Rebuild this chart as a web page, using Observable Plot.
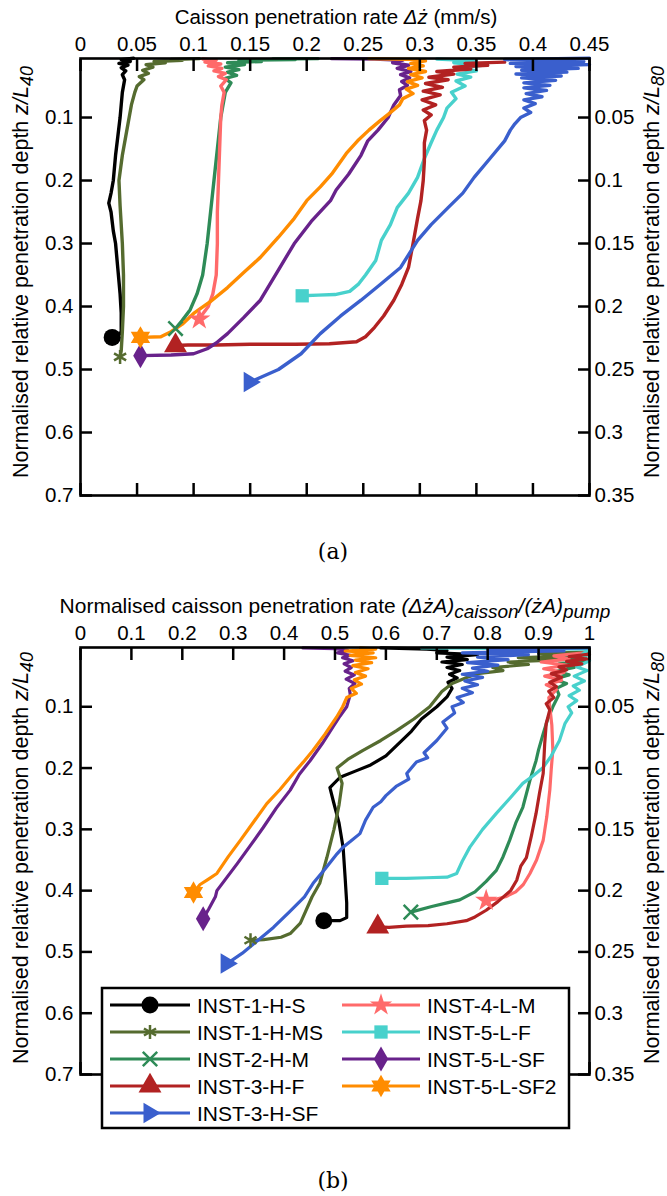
<!DOCTYPE html>
<html><head><meta charset="utf-8">
<script src="https://cdn.jsdelivr.net/npm/d3@7"></script>
<script src="https://cdn.jsdelivr.net/npm/@observablehq/plot@0.6"></script>
<style>
body{margin:0;background:#fff;}
#chart{width:667px;}
#chart svg{display:block;}
</style></head><body><div id="chart"></div>
<script>
const FONT = '"Liberation Sans", Arial, Helvetica, sans-serif';
const SERIF = '"DejaVu Serif", "Liberation Serif", serif';

const names = ["INST-1-H-S","INST-1-H-MS","INST-2-H-M","INST-3-H-F","INST-3-H-SF","INST-4-L-M","INST-5-L-F","INST-5-L-SF","INST-5-L-SF2"];
const colors = ["#000000","#556b2f","#2e8b57","#b22222","#3a5fcd","#ff6a6a","#48d1cc","#68228b","#ff8c00"];

const xTicksA = [0,0.05,0.1,0.15,0.2,0.25,0.3,0.35,0.4,0.45];
const xTicksB = [0,0.1,0.2,0.3,0.4,0.5,0.6,0.7,0.8,0.9,1];
const yTicksL = [0.1,0.2,0.3,0.4,0.5,0.6,0.7];
const yTicksR = [0.05,0.1,0.15,0.2,0.25,0.3,0.35];

// Panel (a): [penetration rate mm/s, z/L40]
const a_1HS = [[0.047,0.006],[0.036,0.008],[0.044,0.011],[0.034,0.014],[0.042,0.017],[0.036,0.021],[0.04,0.026],[0.037,0.032],[0.039,0.04],[0.037,0.06],[0.036,0.08],[0.035,0.1],[0.033,0.13],[0.031,0.16],[0.029,0.2],[0.027,0.22],[0.025,0.236],[0.027,0.25],[0.029,0.28],[0.031,0.3],[0.033,0.34],[0.035,0.38],[0.036,0.41],[0.036,0.44],[0.032,0.449],[0.028,0.449]];
const a_1HMS = [[0.105,0.0065],[0.08,0.008],[0.09,0.009],[0.065,0.011],[0.075,0.013],[0.058,0.016],[0.064,0.02],[0.055,0.025],[0.06,0.03],[0.052,0.035],[0.056,0.04],[0.05,0.05],[0.048,0.06],[0.045,0.08],[0.043,0.1],[0.04,0.13],[0.037,0.16],[0.034,0.2],[0.035,0.24],[0.037,0.3],[0.038,0.35],[0.038,0.4],[0.037,0.44],[0.036,0.47],[0.035,0.48]];
const a_2HM = [[0.21,0.0065],[0.17,0.007],[0.19,0.008],[0.14,0.009],[0.16,0.011],[0.13,0.013],[0.145,0.016],[0.128,0.02],[0.14,0.024],[0.13,0.028],[0.138,0.033],[0.128,0.038],[0.133,0.045],[0.128,0.06],[0.126,0.08],[0.124,0.1],[0.121,0.15],[0.118,0.2],[0.115,0.25],[0.112,0.3],[0.108,0.35],[0.103,0.38],[0.097,0.405],[0.09,0.422],[0.084,0.435]];
const a_3HF = [[0.375,0.012],[0.34,0.014],[0.36,0.017],[0.33,0.02],[0.345,0.023],[0.315,0.027],[0.33,0.031],[0.308,0.036],[0.325,0.04],[0.305,0.046],[0.32,0.052],[0.303,0.058],[0.318,0.064],[0.302,0.072],[0.314,0.08],[0.303,0.088],[0.31,0.096],[0.304,0.105],[0.306,0.12],[0.304,0.14],[0.304,0.17],[0.303,0.2],[0.301,0.232],[0.298,0.26],[0.294,0.3],[0.29,0.338],[0.284,0.365],[0.277,0.39],[0.268,0.415],[0.26,0.433],[0.252,0.448],[0.244,0.456],[0.22,0.459],[0.19,0.46],[0.15,0.46],[0.12,0.461],[0.095,0.461],[0.084,0.462]];
const a_3HSF = [[0.45,0.006],[0.375,0.008],[0.445,0.011],[0.38,0.014],[0.45,0.016],[0.385,0.019],[0.44,0.022],[0.39,0.025],[0.43,0.028],[0.385,0.031],[0.425,0.034],[0.39,0.037],[0.42,0.041],[0.392,0.045],[0.415,0.049],[0.392,0.053],[0.412,0.057],[0.394,0.062],[0.408,0.067],[0.392,0.072],[0.402,0.078],[0.392,0.085],[0.398,0.092],[0.389,0.1],[0.384,0.11],[0.38,0.12],[0.375,0.137],[0.362,0.165],[0.348,0.195],[0.338,0.22],[0.325,0.243],[0.31,0.27],[0.298,0.295],[0.283,0.338],[0.265,0.365],[0.248,0.39],[0.23,0.415],[0.212,0.443],[0.195,0.475],[0.175,0.5],[0.16,0.512],[0.15,0.52]];
const a_4LM = [[0.108,0.007],[0.12,0.009],[0.11,0.012],[0.124,0.015],[0.113,0.018],[0.125,0.022],[0.118,0.026],[0.128,0.03],[0.122,0.035],[0.129,0.04],[0.124,0.05],[0.127,0.06],[0.125,0.08],[0.124,0.1],[0.123,0.15],[0.122,0.2],[0.121,0.25],[0.121,0.3],[0.12,0.35],[0.117,0.38],[0.113,0.4],[0.108,0.412],[0.105,0.42]];
const a_5LF = [[0.315,0.007],[0.35,0.01],[0.33,0.013],[0.355,0.017],[0.335,0.021],[0.35,0.026],[0.333,0.031],[0.345,0.036],[0.332,0.042],[0.34,0.05],[0.328,0.06],[0.332,0.07],[0.324,0.085],[0.321,0.1],[0.315,0.12],[0.31,0.14],[0.304,0.165],[0.298,0.195],[0.29,0.22],[0.28,0.243],[0.274,0.27],[0.266,0.295],[0.261,0.327],[0.252,0.35],[0.246,0.364],[0.238,0.376],[0.225,0.381],[0.21,0.382],[0.196,0.383]];
const a_5LSF = [[0.222,0.0065],[0.26,0.007],[0.285,0.009],[0.276,0.013],[0.29,0.017],[0.28,0.022],[0.292,0.027],[0.283,0.032],[0.291,0.037],[0.284,0.043],[0.289,0.049],[0.282,0.056],[0.283,0.065],[0.277,0.08],[0.272,0.1],[0.263,0.12],[0.254,0.137],[0.248,0.16],[0.237,0.19],[0.226,0.215],[0.221,0.232],[0.204,0.265],[0.189,0.3],[0.174,0.345],[0.159,0.39],[0.144,0.418],[0.13,0.443],[0.12,0.458],[0.112,0.467],[0.1,0.475],[0.08,0.477],[0.053,0.478]];
const a_5LSF2 = [[0.255,0.0065],[0.3,0.008],[0.305,0.01],[0.292,0.014],[0.303,0.018],[0.29,0.022],[0.305,0.027],[0.292,0.032],[0.302,0.037],[0.289,0.043],[0.298,0.049],[0.288,0.055],[0.294,0.062],[0.285,0.07],[0.282,0.08],[0.272,0.095],[0.265,0.105],[0.255,0.12],[0.245,0.137],[0.235,0.157],[0.222,0.19],[0.212,0.21],[0.2,0.232],[0.189,0.26],[0.175,0.29],[0.159,0.322],[0.145,0.345],[0.13,0.37],[0.115,0.392],[0.1,0.411],[0.09,0.428],[0.08,0.44],[0.071,0.448],[0.053,0.449]];

// Panel (b): [normalised rate, z/L40]
const b_1HS = [[0.59,0.004],[0.68,0.006],[0.72,0.008],[0.7,0.012],[0.78,0.015],[0.72,0.019],[0.76,0.023],[0.71,0.027],[0.75,0.031],[0.72,0.036],[0.745,0.041],[0.725,0.047],[0.74,0.053],[0.722,0.06],[0.73,0.07],[0.72,0.084],[0.7,0.1],[0.67,0.12],[0.65,0.14],[0.625,0.16],[0.6,0.18],[0.57,0.195],[0.54,0.205],[0.51,0.215],[0.49,0.232],[0.497,0.255],[0.508,0.29],[0.516,0.33],[0.52,0.38],[0.523,0.42],[0.523,0.444],[0.51,0.449],[0.478,0.449]];
const b_1HMS = [[1.0,0.011],[0.9,0.013],[0.98,0.016],[0.86,0.02],[0.95,0.023],[0.84,0.027],[0.88,0.031],[0.81,0.036],[0.83,0.041],[0.78,0.046],[0.76,0.052],[0.73,0.062],[0.71,0.075],[0.686,0.1],[0.655,0.12],[0.621,0.139],[0.59,0.155],[0.555,0.171],[0.525,0.186],[0.504,0.2],[0.514,0.225],[0.508,0.26],[0.498,0.3],[0.484,0.346],[0.47,0.388],[0.455,0.41],[0.432,0.453],[0.412,0.47],[0.394,0.476],[0.36,0.48],[0.334,0.481]];
const b_2HM = [[1.0,0.015],[0.95,0.02],[0.99,0.025],[0.94,0.03],[0.97,0.036],[0.935,0.042],[0.96,0.048],[0.93,0.055],[0.955,0.062],[0.935,0.07],[0.94,0.08],[0.928,0.1],[0.918,0.12],[0.909,0.144],[0.9,0.17],[0.895,0.188],[0.883,0.22],[0.869,0.264],[0.855,0.29],[0.843,0.318],[0.83,0.345],[0.817,0.367],[0.797,0.385],[0.775,0.402],[0.745,0.415],[0.72,0.42],[0.69,0.426],[0.649,0.435]];
const b_3HF = [[1.0,0.014],[0.96,0.018],[0.995,0.022],[0.955,0.026],[0.985,0.03],[0.94,0.035],[0.955,0.04],[0.925,0.046],[0.945,0.052],[0.922,0.06],[0.935,0.067],[0.92,0.075],[0.93,0.085],[0.915,0.095],[0.922,0.105],[0.915,0.127],[0.912,0.16],[0.909,0.209],[0.902,0.24],[0.895,0.274],[0.886,0.31],[0.876,0.346],[0.865,0.36],[0.857,0.383],[0.845,0.4],[0.82,0.418],[0.797,0.432],[0.775,0.443],[0.758,0.449],[0.72,0.454],[0.683,0.457],[0.64,0.458],[0.606,0.46],[0.584,0.459]];
const b_3HSF = [[1.0,0.004],[0.8,0.006],[0.95,0.009],[0.75,0.012],[0.88,0.015],[0.78,0.019],[0.84,0.023],[0.76,0.028],[0.82,0.032],[0.77,0.037],[0.8,0.042],[0.75,0.047],[0.79,0.052],[0.755,0.058],[0.78,0.064],[0.75,0.07],[0.77,0.077],[0.74,0.085],[0.752,0.093],[0.73,0.1],[0.735,0.11],[0.712,0.125],[0.72,0.135],[0.7,0.155],[0.675,0.175],[0.682,0.183],[0.66,0.19],[0.641,0.209],[0.645,0.218],[0.62,0.23],[0.6,0.245],[0.59,0.255],[0.575,0.264],[0.56,0.285],[0.549,0.307],[0.53,0.32],[0.516,0.329],[0.504,0.34],[0.48,0.365],[0.457,0.388],[0.44,0.41],[0.41,0.435],[0.379,0.46],[0.35,0.48],[0.318,0.502],[0.288,0.519]];
const b_4LM = [[0.99,0.012],[0.93,0.017],[0.96,0.022],[0.905,0.027],[0.955,0.032],[0.91,0.038],[0.95,0.044],[0.912,0.05],[0.945,0.057],[0.915,0.064],[0.935,0.072],[0.92,0.085],[0.922,0.1],[0.926,0.13],[0.928,0.171],[0.925,0.2],[0.922,0.236],[0.916,0.28],[0.909,0.318],[0.896,0.35],[0.883,0.372],[0.87,0.39],[0.855,0.402],[0.835,0.41],[0.815,0.414],[0.797,0.416]];
const b_5LF = [[0.67,0.004],[0.85,0.005],[1.0,0.006],[0.985,0.015],[1.0,0.025],[0.975,0.035],[0.995,0.041],[0.97,0.05],[0.99,0.058],[0.968,0.066],[0.98,0.073],[0.96,0.082],[0.975,0.09],[0.958,0.1],[0.965,0.11],[0.952,0.127],[0.941,0.155],[0.925,0.18],[0.909,0.199],[0.89,0.212],[0.869,0.225],[0.845,0.248],[0.817,0.274],[0.79,0.3],[0.765,0.329],[0.75,0.352],[0.739,0.372],[0.72,0.378],[0.68,0.379],[0.64,0.38],[0.621,0.38],[0.592,0.38]];
const b_5LSF = [[0.437,0.004],[0.5,0.005],[0.525,0.008],[0.505,0.012],[0.53,0.016],[0.515,0.02],[0.535,0.025],[0.518,0.03],[0.532,0.036],[0.52,0.042],[0.538,0.048],[0.522,0.055],[0.539,0.062],[0.528,0.07],[0.53,0.08],[0.523,0.1],[0.51,0.115],[0.496,0.133],[0.475,0.16],[0.451,0.188],[0.43,0.21],[0.412,0.236],[0.385,0.265],[0.359,0.297],[0.335,0.325],[0.308,0.356],[0.288,0.378],[0.268,0.4],[0.265,0.41],[0.252,0.43],[0.241,0.446]];
const b_5LSF2 = [[0.55,0.004],[0.58,0.006],[0.52,0.009],[0.575,0.012],[0.53,0.016],[0.58,0.02],[0.54,0.024],[0.572,0.028],[0.535,0.033],[0.565,0.038],[0.54,0.044],[0.56,0.05],[0.538,0.056],[0.552,0.063],[0.532,0.07],[0.542,0.078],[0.523,0.085],[0.515,0.1],[0.503,0.117],[0.48,0.145],[0.457,0.171],[0.438,0.19],[0.418,0.209],[0.392,0.235],[0.366,0.258],[0.34,0.288],[0.314,0.318],[0.29,0.345],[0.268,0.372],[0.25,0.382],[0.235,0.39],[0.222,0.403]];

const seriesA = [a_1HS, a_1HMS, a_2HM, a_3HF, a_3HSF, a_4LM, a_5LF, a_5LSF, a_5LSF2];
const seriesB = [b_1HS, b_1HMS, b_2HM, b_3HF, b_3HSF, b_4LM, b_5LF, b_5LSF, b_5LSF2];

// symbols
const rightTri = {draw(ctx, size){ const r = Math.sqrt(size/Math.PI)*1.35; ctx.moveTo(r,0); ctx.lineTo(-r*0.6, r*0.95); ctx.lineTo(-r*0.6,-r*0.95); ctx.closePath(); }};
const hexagram = {draw(ctx, size){ const R = Math.sqrt(size/Math.PI)*1.3, ri = R/Math.sqrt(3);
  for (let k=0;k<12;k++){ const a = Math.PI/6*k - Math.PI/2; const rr = k%2 ? ri : R; const x = rr*Math.cos(a), y = rr*Math.sin(a); if (k) ctx.lineTo(x,y); else ctx.moveTo(x,y);} ctx.closePath(); }};
const symbols = [d3.symbolCircle, d3.symbolAsterisk, d3.symbolTimes, d3.symbolTriangle, rightTri, d3.symbolStar, d3.symbolSquare, d3.symbolDiamond, hexagram];
const radii = [8.5, 6.6, 6.6, 8.5, 8, 7, 7.5, 7.6, 8.6];
const strokeSym = [false, true, true, false, false, false, false, false, false];

const order = [0,1,2,5,6,3,4,7,8];

function makePanel({series, xDomain, xTicks, height, marginTop, marginBottom, yTop, xFmt, lw}) {
  const marks = [];
  order.forEach(i => {
    marks.push(Plot.line(series[i], {x: d => d[0], y: d => d[1], stroke: colors[i], strokeWidth: lw, strokeLinejoin: "round", strokeLinecap: "round"}));
  });
  order.forEach(i => {
    const last = [series[i][series[i].length - 1]];
    if (strokeSym[i]) marks.push(Plot.dot(last, {x: d => d[0], y: d => d[1], symbol: symbols[i], r: radii[i], fill: "none", stroke: colors[i], strokeWidth: 2.5}));
    else marks.push(Plot.dot(last, {x: d => d[0], y: d => d[1], symbol: symbols[i], r: radii[i], fill: colors[i], stroke: "none"}));
  });
  marks.push(Plot.frame({stroke: "black", strokeWidth: 2.6}));
  marks.push(Plot.axisX({anchor: "top", ticks: xTicks, tickSize: -12, tickPadding: 20, strokeWidth: 2.5, tickFormat: xFmt, label: null}));
  marks.push(Plot.axisX({anchor: "bottom", ticks: xTicks, tickSize: -12, tickPadding: 20, strokeWidth: 2.5, tickFormat: () => "", label: null}));
  marks.push(Plot.axisY({anchor: "left", ticks: yTicksL, tickSize: -12, tickPadding: 19, strokeWidth: 2.5, tickFormat: d => String(d), label: null}));
  marks.push(Plot.axisY({anchor: "right", ticks: yTicksR.map(v => v * 2), tickSize: -12, tickPadding: 17, strokeWidth: 2.5, tickFormat: d => String(Math.round(d / 2 * 100) / 100), label: null}));
  return Plot.plot({
    width: 667, height, marginTop, marginBottom, marginLeft: 80, marginRight: 78,
    x: {domain: xDomain},
    y: {domain: [yTop, 0.7], reverse: true},
    style: {fontFamily: FONT, fontSize: "20.5px", color: "black", background: "white", overflow: "visible"},
    marks
  });
}

function addText(svg, x, y, parts, opts = {}) {
  const t = d3.select(svg).append("text")
    .attr("font-family", opts.family || FONT)
    .attr("font-size", opts.size || 20.5)
    .attr("fill", "black")
    .attr("text-anchor", opts.anchor || "middle")
    .attr("dominant-baseline", "central");
  if (opts.rotate) t.attr("transform", `translate(${x},${y}) rotate(${opts.rotate})`);
  else t.attr("x", x).attr("y", y);
  let shift = 0;
  parts.forEach(p => {
    const s = t.append("tspan").text(p.t);
    if (p.i) s.attr("font-style", "italic");
    const target = p.sub ? 6 : 0;
    if (target !== shift) { s.attr("dy", target - shift); shift = target; }
    if (p.sub) s.attr("font-size", opts.subSize || 17);
  });
  return t;
}

const chart = document.getElementById("chart");

// Panel (a)
const svgA = makePanel({series: seriesA, xDomain: [0, 0.45], xTicks: xTicksA, height: 580, marginTop: 58, marginBottom: 85, yTop: 0.0063, xFmt: d => String(d), lw: 3.4});
chart.appendChild(svgA);
addText(svgA, 336, 16, [{t: "Caisson penetration rate "}, {t: "\u0394\u017C", i: true}, {t: " (mm/s)"}]);
addText(svgA, 21, 272, [{t: "Normalised relative penetration depth "}, {t: "z/L", i: true}, {t: "40", i: true, sub: true}], {rotate: -90, size: 21.5, subSize: 18});
addText(svgA, 652, 272, [{t: "Normalised relative penetration depth "}, {t: "z/L", i: true}, {t: "80", i: true, sub: true}], {rotate: -90, size: 21.5, subSize: 18});
addText(svgA, 333, 551, [{t: "(a)"}], {family: SERIF, size: 22});

// Panel (b)
const svgB = makePanel({series: seriesB, xDomain: [0, 1], xTicks: xTicksB, height: 616, marginTop: 67, marginBottom: 122, yTop: 0.0033, xFmt: d => String(d), lw: 3.2});
chart.appendChild(svgB);
addText(svgB, 335, 25, [{t: "Normalised caisson penetration rate "}, {t: "(\u0394\u017CA)", i: true}, {t: "caisson", i: true, sub: true}, {t: "/(\u017CA)", i: true}, {t: "pump", i: true, sub: true}], {size: 21, subSize: 19});
addText(svgB, 21, 278, [{t: "Normalised relative penetration depth "}, {t: "z/L", i: true}, {t: "40", i: true, sub: true}], {rotate: -90, size: 21.5, subSize: 18});
addText(svgB, 652, 278, [{t: "Normalised relative penetration depth "}, {t: "z/L", i: true}, {t: "80", i: true, sub: true}], {rotate: -90, size: 21.5, subSize: 18});
addText(svgB, 333, 600, [{t: "(b)"}], {family: SERIF, size: 22});

// Legend in panel (b)
(function legend() {
  const g = d3.select(svgB).append("g").attr("text-anchor", "start");
  g.append("rect").attr("x", 102).attr("y", 408).attr("width", 467).attr("height", 140)
    .attr("fill", "white").attr("stroke", "black").attr("stroke-width", 2.5);
  const cols = [{x0: 110, x1: 190, xm: 150, xt: 197}, {x0: 342, x1: 420, xm: 381, xt: 427}];
  const layout = [[0,0],[0,1],[0,2],[0,3],[0,4],[1,0],[1,1],[1,2],[1,3]];
  names.forEach((name, i) => {
    const [c, r] = layout[i];
    const col = cols[c];
    const y = 425 + r * 27;
    g.append("line").attr("x1", col.x0).attr("x2", col.x1).attr("y1", y).attr("y2", y)
      .attr("stroke", colors[i]).attr("stroke-width", 3.2);
    const path = d3.symbol(symbols[i], Math.PI * radii[i] * radii[i])();
    const p = g.append("path").attr("d", path).attr("transform", `translate(${col.xm},${y})`);
    if (strokeSym[i]) p.attr("fill", "none").attr("stroke", colors[i]).attr("stroke-width", 2.5);
    else p.attr("fill", colors[i]);
    g.append("text").attr("x", col.xt).attr("y", y).attr("dominant-baseline", "central")
      .attr("text-anchor", "start")
      .attr("font-family", FONT).attr("font-size", 21).attr("fill", "black").text(name);
  });
})();
</script>
</body></html>
